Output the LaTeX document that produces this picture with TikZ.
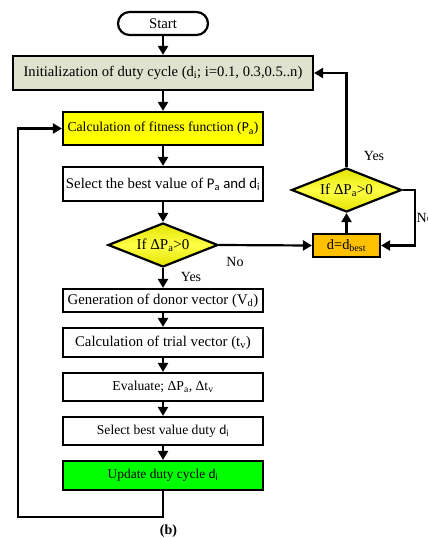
\documentclass[tikz,border=0pt]{standalone}
\usepackage{fontspec}
\setmainfont{Liberation Serif}
\newfontfamily\calfont{Carlito}
\usetikzlibrary{shapes.geometric,arrows.meta}

\definecolor{initfill}{RGB}{222,226,206}
\definecolor{boxyellow}{RGB}{255,255,0}
\definecolor{diaedge}{RGB}{226,226,0}
\definecolor{diamid}{RGB}{255,255,70}
\definecolor{bestfill}{RGB}{255,192,0}
\definecolor{updfill}{RGB}{0,255,0}

\tikzset{
  flow/.style={line width=2.2pt, draw=black},
  procbox/.style={flow, rectangle, minimum width=200pt, inner sep=0pt,
    font=\fontsize{14.8}{17}\selectfont},
  decision/.style={flow, diamond, aspect=2.5, inner sep=0pt,
    minimum width=110pt, minimum height=44pt,
    top color=diaedge, bottom color=diaedge, middle color=diamid,
    font=\fontsize{15}{17}\selectfont},
  arrowline/.style={line width=2.2pt, -{Triangle[length=9pt,width=10pt]}},
  lab/.style={font=\fontsize{14}{16}\selectfont, inner sep=0pt}
}

\begin{document}
\begin{tikzpicture}[x=1pt,y=-1pt]
\useasboundingbox (0,0) rectangle (428,538);

% terminal and process boxes of the main column
\node[flow, rounded corners=11.5pt, minimum width=90pt, minimum height=23pt,
  inner sep=0pt, fill=white, font=\fontsize{14.8}{17}\selectfont] (start) at (163,23.5) {Start};
\node[procbox, fill=initfill, minimum width=300pt, minimum height=34pt,
  font=\fontsize{14.6}{17}\selectfont] (init) at (163,73)
  {Initialization of duty cycle (d\textsubscript{i}; i=0.1, 0.3,0.5..n)};
\node[procbox, fill=boxyellow, minimum height=33pt,
  font=\fontsize{13.7}{16}\selectfont] (calc) at (163,128.5)
  {Calculation of fitness function ({\calfont P\textsubscript{a}})};
\node[procbox, fill=white, minimum height=34pt] (sel) at (163,184)
  {Select the best value of {\calfont P\textsubscript{a} and d\textsubscript{i}}};
\node[decision] (dia1) at (163,245) {If ΔP\textsubscript{a}>0};
\node[procbox, fill=white, minimum height=23pt] (gen) at (163,300.5)
  {Generation of donor vector (V\textsubscript{d})};
\node[procbox, fill=white, minimum height=29pt] (trial) at (163,342.5)
  {Calculation of trial vector (t\textsubscript{v})};
\node[procbox, fill=white, minimum height=28pt,
  font=\fontsize{13.7}{16}\selectfont] (eval) at (163,387)
  {Evaluate; ΔP\textsubscript{a}, Δt\textsubscript{v}};
\node[procbox, fill=white, minimum height=28pt,
  font=\fontsize{13.6}{16}\selectfont] (selb) at (163,431)
  {Select best value duty {\calfont d\textsubscript{i}}};
\node[procbox, fill=updfill, minimum height=29pt,
  font=\fontsize{13.4}{16}\selectfont] (upd) at (163,475.5)
  {Update duty cycle {\calfont d\textsubscript{i}}};

% side branch
\node[flow, rectangle, fill=bestfill, minimum width=67pt, minimum height=23pt,
  inner sep=0pt, font=\fontsize{14.4}{16}\selectfont] (best) at (346.5,245.5)
  {d=d\textsubscript{best}};
\node[decision] (dia2) at (346.5,190) {If ΔP\textsubscript{a}>0};

% bend points of the loops
\coordinate (rtop) at (415,190);
\coordinate (rbot) at (415,245.5);
\coordinate (lbot) at (18,517);
\coordinate (ltop) at (18,128.5);
\coordinate (ubot) at (163,517);

% main column connectors
\draw[arrowline] (start) -- (init);
\draw[arrowline] (init) -- (calc);
\draw[arrowline] (calc) -- (sel);
\draw[arrowline] (sel) -- (dia1);
\draw[arrowline] (dia1.south) -- (gen);
\draw[arrowline] (gen) -- (trial);
\draw[arrowline] (trial) -- (eval);
\draw[arrowline] (eval) -- (selb);
\draw[arrowline] (selb) -- (upd);

% branch connectors
\draw[arrowline] (dia1.east) -- (best.west);
\draw[arrowline] (best.north) -- (dia2.south);
\draw[arrowline] (dia2.north) -- (dia2.north |- init.east) -- (init.east);
\draw[arrowline] (dia2.east) -- (rtop) -- (rbot) -- (best.east);

% feedback loop
\draw[arrowline, line join=miter] (upd.south) -- (ubot) -- (lbot) -- (ltop) -- (calc.west);

% labels
\node[lab] (yes1) at (191,277) {Yes};
\node[lab] (no1) at (235,262) {No};
\node[lab] (yes2) at (374,156) {Yes};
\node[lab, anchor=west] (no2) at (416.5,218) {No};
\node[font=\bfseries\fontsize{14}{16}\selectfont, inner sep=0pt] (cap) at (168.5,531) {(b)};
\end{tikzpicture}
\end{document}
